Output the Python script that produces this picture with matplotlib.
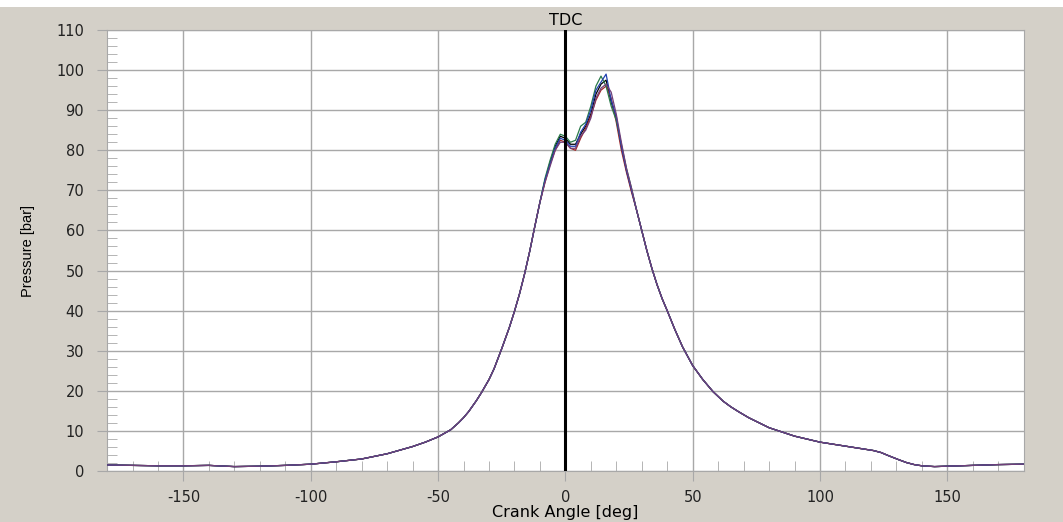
import numpy as np
import matplotlib.pyplot as plt
from matplotlib.patches import Rectangle

plt.rcParams['axes.unicode_minus'] = False
plt.rcParams['font.family'] = ['DejaVu Sans']

# crank angle / pressure shared by all cycles away from the peak
angle_pre = [-180, -170, -160, -150, -140, -130, -120, -110, -100, -90,
             -80, -70, -60, -55, -50, -45, -42, -40, -38, -35, -33, -30,
             -28, -25, -22, -20, -18, -16, -14, -12, -10]
p_pre = [1.5, 1.4, 1.3, 1.3, 1.4, 1.1, 1.2, 1.4, 1.7, 2.3,
         3.0, 4.3, 6.1, 7.2, 8.5, 10.3, 12.0, 13.3, 14.8, 17.5, 19.5, 22.8,
         25.5, 30.5, 35.8, 39.8, 44.2, 49.2, 54.8, 61.0, 67.0]

angle_peak = [-8, -6, -4, -2, 0, 2, 4, 6, 8, 10, 12, 14, 16, 18, 20, 22, 24, 26]
p_cycle1 = [72.5, 77.0, 81.0, 83.5, 83.0, 81.5, 81.5, 84.0, 86.0, 89.0, 94.0, 96.5, 97.5, 92.0, 88.0, 81.0, 75.0, 70.0]
p_cycle2 = [72.0, 76.5, 80.0, 82.5, 82.0, 80.5, 80.0, 83.0, 85.5, 88.5, 92.5, 95.0, 96.0, 93.0, 87.0, 80.0, 74.5, 69.5]
p_cycle3 = [73.0, 77.5, 81.5, 84.0, 83.5, 82.0, 82.5, 86.0, 87.0, 91.0, 96.0, 98.5, 96.0, 91.0, 87.5, 81.5, 75.5, 70.5]
p_cycle4 = [72.5, 76.5, 80.5, 83.0, 82.5, 81.0, 81.0, 84.5, 86.5, 90.0, 95.0, 97.0, 99.0, 92.5, 88.5, 81.0, 75.0, 70.0]
p_cycle5 = [72.0, 76.0, 80.0, 82.0, 82.0, 80.5, 80.5, 83.5, 85.0, 88.0, 93.0, 95.5, 96.5, 94.5, 89.0, 82.0, 75.5, 70.5]

angle_post = [28, 30, 32, 34, 36, 38, 40, 43, 46, 50, 54, 58, 62, 65, 68, 72, 80, 90, 100, 111,
              121, 124, 127, 131, 134, 137, 140, 145, 150, 160, 170, 180]
p_post = [65.0, 60.0, 55.0, 50.5, 46.5, 43.0, 40.0, 35.3, 31.0, 26.3, 22.8, 19.8, 17.4, 16.0, 14.8, 13.3,
          10.8, 8.7, 7.2, 6.1, 5.1, 4.6, 3.8, 2.8, 2.1, 1.6, 1.3, 1.1, 1.2, 1.4, 1.6, 1.7]

cycles = [p_cycle1, p_cycle2, p_cycle3, p_cycle4, p_cycle5]
colors = ['#000000', '#a02828', '#2a7a4a', '#2040b0', '#70407a']

bg = '#d4d0c8'
fig = plt.figure(figsize=(10.63, 5.22), dpi=100, facecolor=bg)
fig.patches.append(Rectangle((0, 0.986), 1, 0.014, transform=fig.transFigure,
                             facecolor='white', edgecolor='none'))
ax = fig.add_axes([0.1007, 0.0977, 0.8623, 0.8448])

angle = angle_pre + angle_peak + angle_post
for pk, c in zip(cycles, colors):
    p = p_pre + pk + p_post
    ax.plot(angle, p, color=c, lw=0.9, zorder=3)

ax.axvline(0, color='black', lw=2.2, zorder=4)
ax.text(0, 110.6, 'TDC', ha='center', va='bottom', fontsize=11.5, clip_on=False)

ax.set_xlim(-180, 180)
ax.set_ylim(0, 110)
ax.set_xticks([-150, -100, -50, 0, 50, 100, 150])
ax.set_yticks(np.arange(0, 111, 10))
ax.set_xticks(np.arange(-170, 180, 10), minor=True)
ax.set_yticks(np.arange(2, 110, 2), minor=True)

ax.grid(True, which='major', color='#a8a8a8', lw=1)
ax.set_axisbelow(True)
for s in ax.spines.values():
    s.set_color('#a8a8a8')

ax.tick_params(which='major', direction='out', length=7.5, color='#a8a8a8',
               labelsize=10.5, labelcolor='#222222')
ax.tick_params(axis='y', which='major', pad=9)
ax.tick_params(axis='x', which='major', pad=6)
ax.tick_params(which='minor', direction='in', length=7, color='#a8a8a8')

ax.set_xlabel('Crank Angle [deg]', fontsize=11.5, labelpad=0)
ax.set_ylabel('Pressure [bar]', fontsize=10.5,
              family=['Liberation Sans Narrow', 'Liberation Sans'], labelpad=15)

fig.savefig('out.png', dpi=100, facecolor=bg)
